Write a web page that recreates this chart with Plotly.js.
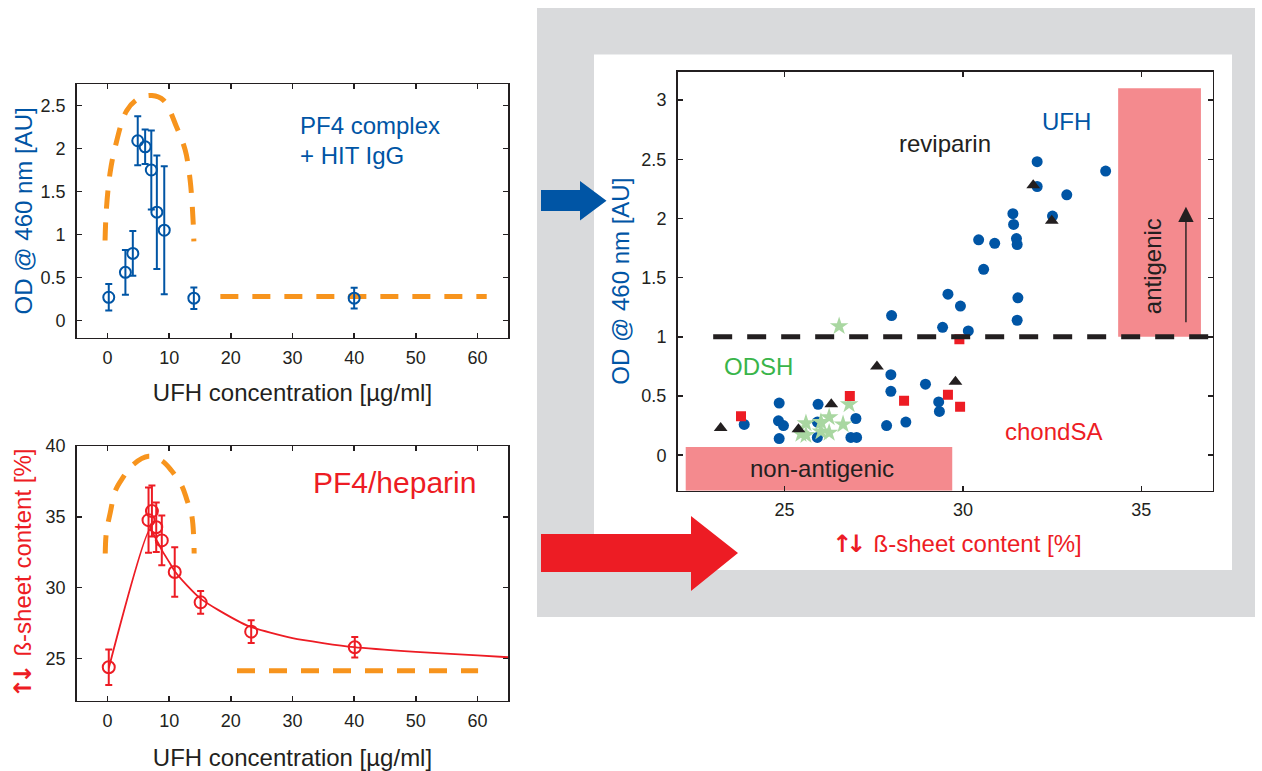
<!DOCTYPE html>
<html>
<head>
<meta charset="utf-8">
<script src="https://cdn.plot.ly/plotly-3.0.1.min.js"></script>
<style>
  html, body { margin: 0; padding: 0; background: #ffffff; }
  #chart { width: 1262px; height: 771px; }
</style>
</head>
<body>
<div id="chart"></div>
<script>
// ---------- Panel A: PF4 complex + HIT IgG (ELISA) ----------
const ufhConcOD = [0.2, 2.9, 4.1, 4.9, 6.1, 7.1, 8.0, 9.2, 14.0, 40.0];
const odMean    = [0.27, 0.56, 0.78, 2.09, 2.02, 1.75, 1.26, 1.05, 0.26, 0.26];
const odErr     = [0.155, 0.26, 0.26, 0.285, 0.2, 0.46, 0.66, 0.745, 0.125, 0.12];

// hand-drawn guide: antigenic window (arch) and low plateau
const odArchX    = [-0.4, -0.2, 0.4, 1.25, 3.1, 5.0, 7.2, 9.1, 11.2, 12.6, 13.4, 13.9, 14.0];
const odArchY    = [0.93, 1.28, 1.71, 2.02, 2.44, 2.58, 2.615, 2.56, 2.25, 1.98, 1.63, 1.13, 0.92];
const odPlateauX = [18.3, 61.5];
const odPlateauY = [0.28, 0.28];

// ---------- Panel B: PF4/heparin beta-sheet content ----------
const ufhConcBS = [0.2, 6.65, 7.2, 7.9, 8.8, 10.9, 15.1, 23.3, 40.1];
const bsMean    = [24.36, 34.76, 35.4, 34.26, 33.33, 31.1, 28.95, 26.88, 25.78];
const bsErr     = [1.25, 2.3, 1.8, 1.75, 1.75, 1.75, 0.8, 0.8, 0.72];

// fitted curve
const bsFitX = [0.2, 6.9, 8.0, 9.0, 10.0, 11.0, 13.0, 15.0, 18.0, 23.0, 30.0, 40.0, 50.0, 60.0, 65.0];
const bsFitY = [24.3, 34.1, 33.3, 32.5, 31.8, 31.1, 30.1, 29.25, 28.4, 27.25, 26.42, 25.78, 25.45, 25.2, 25.07];

// guide arch and plateau
const bsArchX    = [-0.37, -0.2, 0.45, 1.25, 2.33, 4.2, 6.65, 8.8, 10.4, 12.06, 12.87, 13.68, 14.05];
const bsArchY    = [32.4, 33.86, 35.3, 36.82, 37.66, 38.7, 39.27, 38.96, 38.25, 37.18, 36.2, 35.04, 32.4];
const bsPlateauX = [21.0, 60.1];
const bsPlateauY = [24.12, 24.12];

// ---------- Panel C: OD vs beta-sheet content ----------
const ufhBS = [32.08, 34.0, 32.08, 32.91, 31.40, 32.51, 31.42, 30.44, 30.89, 31.50, 31.52, 30.58,
               29.58, 29.93, 31.54, 31.52, 28.0, 29.43, 30.15,
               27.98, 27.98, 28.95, 29.32, 29.34, 27.86, 28.40, 24.85, 24.83, 24.97, 24.85,
               23.87, 25.94, 25.92, 25.92, 27.0, 26.86, 27.02];
const ufhOD = [2.48, 2.40, 2.27, 2.20, 2.04, 2.02, 1.95, 1.82, 1.79, 1.83, 1.78, 1.57,
               1.36, 1.26, 1.33, 1.14, 1.18, 1.08, 1.05,
               0.68, 0.54, 0.60, 0.45, 0.37, 0.25, 0.28, 0.44, 0.29, 0.25, 0.14,
               0.26, 0.43, 0.28, 0.15, 0.31, 0.15, 0.15];

const odshBS = [26.53, 26.81, 26.25, 26.02, 25.60, 26.64, 25.46, 25.60, 26.02, 26.25];
const odshOD = [1.09, 0.43, 0.32, 0.28, 0.27, 0.26, 0.18, 0.17, 0.20, 0.19];

const chondBS = [23.78, 26.83, 28.35, 29.58, 29.92, 29.90];
const chondOD = [0.33, 0.50, 0.46, 0.51, 0.41, 0.98];

const revipBS = [31.97, 32.49, 23.21, 27.59, 29.79, 26.31, 25.39];
const revipOD = [2.28, 1.98, 0.23, 0.75, 0.62, 0.43, 0.22];

const odTicks = [0, 0.5, 1, 1.5, 2, 2.5];
const concTicks = [0, 10, 20, 30, 40, 50, 60];
const bsTicks = [25, 30, 35, 40];
const scatterXTicks = [25, 30, 35];
const scatterYTicks = [0, 0.5, 1, 1.5, 2, 2.5, 3];

const antigenicThreshold = 1;
const nonAntigenicBox = {x: [22.23, 29.70], y: [-0.3, 0.07]};
const antigenicBox = {x: [34.35, 36.67], y: [1.0, 3.10]};

// ---------- styling ----------
const W = 1262, H = 771;
const FONT = 'Liberation Sans, Arial, Helvetica, sans-serif';
const INK = '#231f20';
const BLUE = '#0055a5';
const RED = '#ed1c24';
const ORANGE = '#f7941d';
const GREEN = '#39b54a';
const STAR = '#a9d7a1';
const PINK = '#f48a8e';
const FRAME = '#d9dadc';

// up/down arrow pair set in a font with sturdier arrow glyphs, packed tightly
const UPDOWN = '<span style="font-family:DejaVu Sans;font-weight:bold;letter-spacing:-6px">↑↓</span>';
const BETA_TITLE = UPDOWN + '  ß-sheet content [%]';

const px = v => v / W;
const py = v => 1 - v / H;

function axisStyle(extra) {
  return Object.assign({
    showline: true, linecolor: INK, linewidth: 1.5, mirror: 'ticks',
    ticks: 'inside', ticklen: 5, tickwidth: 1.5, tickcolor: INK,
    showgrid: false, zeroline: false,
    tickfont: {family: FONT, size: 18, color: INK},
    ticklabelstandoff: 6
  }, extra);
}

const guideLine = {color: ORANGE, width: 5, dash: '18px,14px'};

const traces = [
  // Panel A
  {x: odArchX, y: odArchY, xaxis: 'x', yaxis: 'y', mode: 'lines',
   line: Object.assign({shape: 'spline', smoothing: 1}, guideLine), hoverinfo: 'skip'},
  {x: odPlateauX, y: odPlateauY, xaxis: 'x', yaxis: 'y', mode: 'lines', line: guideLine, hoverinfo: 'skip'},
  {x: ufhConcOD, y: odMean, xaxis: 'x', yaxis: 'y', mode: 'markers',
   marker: {symbol: 'circle-open', size: 11, color: BLUE, line: {width: 2, color: BLUE}},
   error_y: {type: 'data', array: odErr, visible: true, color: BLUE, thickness: 2, width: 3.5}},

  // Panel B
  {x: bsArchX, y: bsArchY, xaxis: 'x2', yaxis: 'y2', mode: 'lines',
   line: Object.assign({shape: 'spline', smoothing: 1}, guideLine), hoverinfo: 'skip'},
  {x: bsPlateauX, y: bsPlateauY, xaxis: 'x2', yaxis: 'y2', mode: 'lines', line: guideLine, hoverinfo: 'skip'},
  {x: bsFitX, y: bsFitY, xaxis: 'x2', yaxis: 'y2', mode: 'lines',
   line: {color: RED, width: 1.8, shape: 'spline', smoothing: 0.6}},
  {x: ufhConcBS, y: bsMean, xaxis: 'x2', yaxis: 'y2', mode: 'markers',
   marker: {symbol: 'circle-open', size: 12, color: RED, line: {width: 2, color: RED}},
   error_y: {type: 'data', array: bsErr, visible: true, color: RED, thickness: 2, width: 3.5}},

  // Panel C
  {x: ufhBS, y: ufhOD, xaxis: 'x3', yaxis: 'y3', mode: 'markers', name: 'UFH',
   marker: {symbol: 'circle', size: 11, color: BLUE}},
  {x: odshBS, y: odshOD, xaxis: 'x3', yaxis: 'y3', mode: 'markers', name: 'ODSH',
   marker: {symbol: 'star', size: 14, color: STAR}},
  {x: chondBS, y: chondOD, xaxis: 'x3', yaxis: 'y3', mode: 'markers', name: 'chondSA',
   marker: {symbol: 'square', size: 10, color: RED}},
  {x: revipBS, y: revipOD, xaxis: 'x3', yaxis: 'y3', mode: 'markers', name: 'reviparin',
   marker: {symbol: 'triangle-up', size: 12, color: INK}}
];

// arrow outlines in pixel space, converted to paper fractions
function polyPath(pts) {
  return 'M' + pts.map(p => px(p[0]).toFixed(5) + ',' + py(p[1]).toFixed(5)).join('L') + 'Z';
}
const redArrow = polyPath([[541, 534], [691, 534], [691, 516], [738, 553], [691, 591], [691, 572], [541, 572]]);
const blueArrow = polyPath([[541, 190], [580, 190], [580, 181], [606.5, 200.7], [580, 220.6], [580, 211], [541, 211]]);

const shapes = [
  {type: 'rect', xref: 'paper', yref: 'paper', x0: px(537), x1: px(1255), y0: py(617), y1: py(8),
   fillcolor: FRAME, line: {width: 0}, layer: 'below'},
  {type: 'rect', xref: 'paper', yref: 'paper', x0: px(594), x1: px(1232), y0: py(570), y1: py(54.5),
   fillcolor: '#ffffff', line: {width: 0}, layer: 'below'},
  {type: 'rect', xref: 'x3', yref: 'y3', x0: nonAntigenicBox.x[0], x1: nonAntigenicBox.x[1],
   y0: nonAntigenicBox.y[0], y1: nonAntigenicBox.y[1], fillcolor: PINK, line: {width: 0}, layer: 'below'},
  {type: 'rect', xref: 'x3', yref: 'y3', x0: antigenicBox.x[0], x1: antigenicBox.x[1],
   y0: antigenicBox.y[0], y1: antigenicBox.y[1], fillcolor: PINK, line: {width: 0}, layer: 'below'},
  {type: 'line', xref: 'x3', yref: 'y3', x0: 23.0, x1: 37, y0: antigenicThreshold, y1: antigenicThreshold,
   line: {color: INK, width: 5, dash: '19px,15px'}, layer: 'above'},
  {type: 'path', xref: 'paper', yref: 'paper', path: redArrow, fillcolor: RED, line: {width: 0}, layer: 'above'},
  {type: 'path', xref: 'paper', yref: 'paper', path: blueArrow, fillcolor: BLUE, line: {width: 0}, layer: 'above'}
];

function label(text, x, y, ref, size, color, extra) {
  return Object.assign({
    text: text, x: x, y: y, xref: 'x' + ref, yref: 'y' + ref, showarrow: false,
    xanchor: 'center', yanchor: 'middle',
    font: {family: FONT, size: size, color: color}
  }, extra || {});
}

const annotations = [
  label('PF4 complex', 30.9, 2.27, '', 24, BLUE, {xanchor: 'left'}),
  label('+ HIT IgG', 30.9, 1.92, '', 24, BLUE, {xanchor: 'left'}),
  label('PF4/heparin', 46.6, 37.42, '2', 30, RED),
  label('reviparin', 29.49, 2.63, '3', 24, INK),
  label('UFH', 32.9, 2.82, '3', 24, BLUE),
  label('ODSH', 24.28, 0.75, '3', 24, GREEN),
  label('chondSA', 32.54, 0.2, '3', 24, RED),
  label('non-antigenic', 26.06, -0.11, '3', 24, INK),
  label('antigenic', 35.31, 1.6, '3', 24, INK, {textangle: -90}),
  {x: 36.25, y: 2.10, ax: 36.25, ay: 1.11, xref: 'x3', yref: 'y3', axref: 'x3', ayref: 'y3',
   text: '', showarrow: true, arrowhead: 2, arrowsize: 2.2, arrowwidth: 1.4, arrowcolor: INK, standoff: 0},
  {text: BETA_TITLE, x: px(957), y: py(544), xref: 'paper', yref: 'paper',
   showarrow: false, xanchor: 'center', yanchor: 'middle', font: {family: FONT, size: 24, color: RED}}
];

const titleFont = c => ({family: FONT, size: 24, color: c});

const layout = {
  width: W, height: H,
  margin: {l: 0, r: 0, t: 0, b: 0},
  paper_bgcolor: '#ffffff', plot_bgcolor: 'rgba(0,0,0,0)',
  showlegend: false,
  font: {family: FONT, color: INK},
  xaxis: axisStyle({domain: [px(76.7), px(508.3)], range: [-5, 65], tickvals: concTicks, anchor: 'y',
    ticklabelstandoff: 3,
    title: {text: 'UFH concentration [µg/ml]', font: titleFont(INK), standoff: 17}}),
  yaxis: axisStyle({domain: [py(337.7), py(84)], range: [-0.2, 2.75], tickvals: odTicks, anchor: 'x',
    title: {text: 'OD @ 460 nm [AU]', font: titleFont(BLUE), standoff: 1}}),
  xaxis2: axisStyle({domain: [px(76.7), px(508.3)], range: [-5, 65], tickvals: concTicks, anchor: 'y2',
    ticklabelstandoff: 3,
    title: {text: 'UFH concentration [µg/ml]', font: titleFont(INK), standoff: 22}}),
  yaxis2: axisStyle({domain: [py(700.7), py(446)], range: [22, 40], tickvals: bsTicks, anchor: 'x2',
    title: {text: BETA_TITLE, font: titleFont(RED), standoff: 7}}),
  xaxis3: axisStyle({domain: [px(677.5), px(1212.7)], range: [22, 37], tickvals: scatterXTicks, anchor: 'y3',
    ticklabelstandoff: 2}),
  yaxis3: axisStyle({domain: [py(490.7), py(71.7)], range: [-0.3, 3.24], tickvals: scatterYTicks, anchor: 'x3',
    title: {text: 'OD @ 460 nm [AU]', font: titleFont(BLUE), standoff: 5}}),
  shapes: shapes,
  annotations: annotations
};

Plotly.newPlot('chart', traces, layout, {displayModeBar: false, staticPlot: true});
</script>
</body>
</html>
